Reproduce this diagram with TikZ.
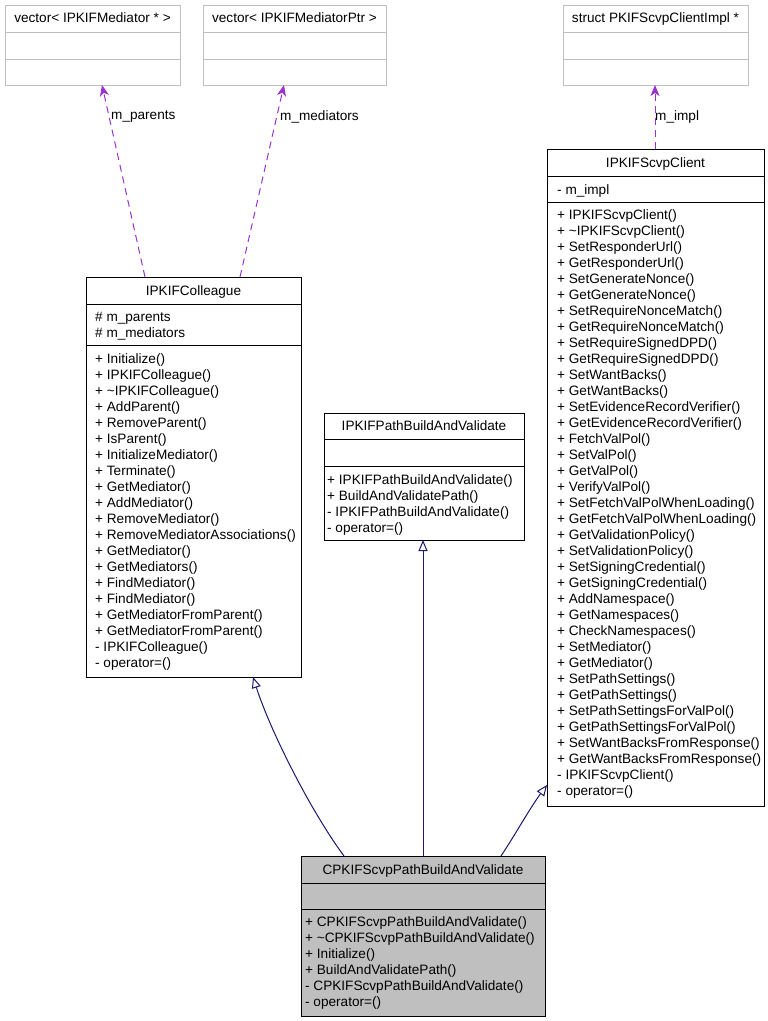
\documentclass[tikz,border=0pt]{standalone}
\usepackage{fontspec}
\setmainfont{Liberation Sans}
\usetikzlibrary{arrows.meta}
\definecolor{edgeblue}{HTML}{191970}
\definecolor{usepurple}{HTML}{9A32CD}
\definecolor{lightgray}{HTML}{BFBFBF}
\newcommand\mylines[4]{% #1 name, #2 x, #3 first centre y, #4 list
  \foreach \t [count=\i from 0] in {#4}
    \node[mtext] (#1-\i) at (#2, #3+16*\i+4.5) {\t};}
\begin{document}
\begin{tikzpicture}[x=1pt,y=-1pt,
  box/.style={draw=black,line width=1pt,anchor=north west,inner sep=0pt,outer sep=0pt},
  graybox/.style={box,draw=lightgray},
  sep/.style={line width=1pt},
  mtext/.style={anchor=base west,inner sep=0pt,font=\fontsize{13.6}{16}\selectfont},
  ttext/.style={anchor=base,inner sep=0pt,font=\fontsize{13.6}{16}\selectfont},
  uses/.style={draw=usepurple,line width=1pt,dash pattern=on 7pt off 5pt,
     -{Stealth[length=11pt,width=9pt,inset=3pt,fill=usepurple]}},
  inherit/.style={draw=edgeblue,line width=1pt,
     -{Triangle[open,length=11pt,width=9pt,fill=white]}},
  elabel/.style={anchor=west,inner sep=0pt,font=\fontsize{13.6}{16}\selectfont}]
\useasboundingbox (0,0) rectangle (768,1021);

% ---------- boxes ----------
\node[graybox,minimum width=175pt,minimum height=80pt] (v1) at (5,5) {};
\node[graybox,minimum width=183pt,minimum height=80pt] (v2) at (203,5) {};
\node[graybox,minimum width=185pt,minimum height=80pt] (s) at (563,5) {};
\node[box,minimum width=217pt,minimum height=657pt] (cl) at (547,149) {};
\node[box,minimum width=215pt,minimum height=400pt] (co) at (86,277) {};
\node[box,minimum width=200pt,minimum height=127pt] (pb) at (324,413) {};
\node[box,fill=lightgray,minimum width=244pt,minimum height=160pt] (cp) at (301,856) {};

% ---------- separators ----------
\foreach \b/\ya/\yb in {v1/32/59, v2/32/59, s/32/59}
  \draw[sep,draw=lightgray] (\b.west |- 0,\ya) -- (\b.east |- 0,\ya)
                             (\b.west |- 0,\yb) -- (\b.east |- 0,\yb);
\foreach \b/\ya/\yb in {cl/176/202, co/304/345, pb/439/466, cp/883/909}
  \draw[sep] (\b.west |- 0,\ya) -- (\b.east |- 0,\ya)
             (\b.west |- 0,\yb) -- (\b.east |- 0,\yb);

% ---------- titles ----------
\node[ttext] (v1-t) at (92.5,22.5) {vector< IPKIFMediator * >};
\node[ttext] (v2-t) at (294.5,22.5) {vector< IPKIFMediatorPtr >};
\node[ttext] (s-t) at (655.5,22.5) {struct PKIFScvpClientImpl *};
\node[ttext] (cl-t) at (655.5,167) {IPKIFScvpClient};
\node[ttext] (co-t) at (193.5,295) {IPKIFColleague};
\node[ttext] (pb-t) at (424,430.5) {IPKIFPathBuildAndValidate};
\node[ttext] (cp-t) at (423,874) {CPKIFScvpPathBuildAndValidate};

% ---------- members ----------
\mylines{cla}{557}{190}{- m\_impl}
\mylines{clm}{557}{215}{+ IPKIFScvpClient(), + \textasciitilde IPKIFScvpClient(), + SetResponderUrl(),
 + GetResponderUrl(), + SetGenerateNonce(), + GetGenerateNonce(), + SetRequireNonceMatch(),
 + GetRequireNonceMatch(), + SetRequireSignedDPD(), + GetRequireSignedDPD(), + SetWantBacks(),
 + GetWantBacks(), + SetEvidenceRecordVerifier(), + GetEvidenceRecordVerifier(), + FetchValPol(),
 + SetValPol(), + GetValPol(), + VerifyValPol(), + SetFetchValPolWhenLoading(),
 + GetFetchValPolWhenLoading(), + GetValidationPolicy(), + SetValidationPolicy(),
 + SetSigningCredential(), + GetSigningCredential(), + AddNamespace(), + GetNamespaces(),
 + CheckNamespaces(), + SetMediator(), + GetMediator(), + SetPathSettings(), + GetPathSettings(),
 + SetPathSettingsForValPol(), + GetPathSettingsForValPol(), + SetWantBacksFromResponse(),
 + GetWantBacksFromResponse(), - IPKIFScvpClient(), - operator=()}
\mylines{coa}{95}{316.5}{\# m\_parents, \# m\_mediators}
\mylines{com}{95}{359}{+ Initialize(), + IPKIFColleague(), + \textasciitilde IPKIFColleague(), + AddParent(),
 + RemoveParent(), + IsParent(), + InitializeMediator(), + Terminate(), + GetMediator(),
 + AddMediator(), + RemoveMediator(), + RemoveMediatorAssociations(), + GetMediator(),
 + GetMediators(), + FindMediator(), + FindMediator(), + GetMediatorFromParent(),
 + GetMediatorFromParent(), - IPKIFColleague(), - operator=()}
\mylines{pbm}{327}{480}{+ IPKIFPathBuildAndValidate(), + BuildAndValidatePath(),
 - IPKIFPathBuildAndValidate(), - operator=()}
\mylines{cpm}{305}{922}{+ CPKIFScvpPathBuildAndValidate(), + \textasciitilde CPKIFScvpPathBuildAndValidate(),
 + Initialize(), + BuildAndValidatePath(), - CPKIFScvpPathBuildAndValidate(), - operator=()}

% ---------- usage edges ----------
\draw[uses] (co.north -| 145,0) -- (v1.south -| 102,0);
\draw[uses] (co.north -| 240,0) -- (v2.south -| 284,0);
\draw[uses] (cl.north -| 655,0) -- (s.south -| 655,0);
\node[elabel] (l1) at (111,117) {m\_parents};
\node[elabel] (l2) at (280,117) {m\_mediators};
\node[elabel] (l3) at (655,117) {m\_impl};

% ---------- inheritance edges ----------
\draw[inherit] (cp.north -| 344,0) .. controls (310,810) and (270,730) .. (co.south -| 253,0);
\draw[inherit] (cp.north -| 423,0) -- (pb.south -| 423,0);
\draw[inherit] (cp.north -| 501,0) .. controls (515,835) and (530,808) .. (cl.west |- 0,785);
\end{tikzpicture}
\end{document}
